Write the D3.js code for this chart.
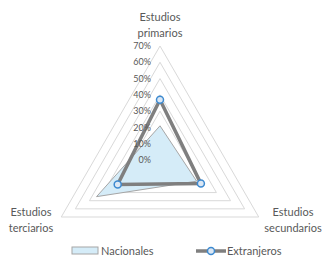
<!DOCTYPE html>
<meta charset="utf-8">
<head>
<style>
  body { margin: 0; background: #fff; }
  text { font-family: Lato, "Liberation Sans", sans-serif; fill: #595959; }
</style>
</head>
<body>
<script src="https://cdn.jsdelivr.net/npm/d3@7"></script>
<script>

// chart data
var axes = [["Estudios", "primarios"], ["Estudios", "secundarios"], ["Estudios", "terciarios"]];
var nacionales = [0.21, 0.26, 0.45];
var extranjeros = [0.37, 0.29, 0.30];
var ticks = [0, 0.1, 0.2, 0.3, 0.4, 0.5, 0.6, 0.7];

var width = 324,
    height = 258,
    cx = 160,
    cy = 160;

var svg = d3.select("body").append("svg")
    .attr("width", width)
    .attr("height", height);

//radial scale
var r = d3.scaleLinear().domain([0, 0.7]).range([0, 114]);

var angle = d3.scaleLinear().domain([0, axes.length]).range([0, 2 * Math.PI]);

function pt(i, v) {
  var a = angle(i);
  return [cx + r(v) * Math.sin(a), cy - r(v) * Math.cos(a)];
}

var poly = d3.line().curve(d3.curveLinearClosed);

// grid rings
svg.append("g").selectAll("path")
  .data(ticks.slice(1))
  .enter().append("path")
  .attr("d", function(t) { return poly(axes.map(function(a, i) { return pt(i, t); })); })
  .attr("fill", "none")
  .attr("stroke", "#d9d9d9")
  .attr("stroke-width", 1);

// Nacionales area
svg.append("path")
  .attr("d", poly(nacionales.map(function(v, i) { return pt(i, v); })))
  .attr("fill", "#d5ecf8")
  .attr("stroke", "#a6a6a6")
  .attr("stroke-width", 1);

// Extranjeros line
svg.append("path")
  .attr("d", poly(extranjeros.map(function(v, i) { return pt(i, v); })))
  .attr("fill", "none")
  .attr("stroke", "#7f7f7f")
  .attr("stroke-width", 3.5)
  .attr("stroke-linejoin", "miter");

svg.append("g").selectAll("circle")
  .data(extranjeros)
  .enter().append("circle")
  .attr("cx", function(v, i) { return pt(i, v)[0]; })
  .attr("cy", function(v, i) { return pt(i, v)[1]; })
  .attr("r", 3.5)
  .attr("fill", "#dbe7f4")
  .attr("stroke", "#3d8ad0")
  .attr("stroke-width", 1.5);

// tick labels
svg.append("g").selectAll("text")
  .data(ticks)
  .enter().append("text")
  .attr("x", cx - 9)
  .attr("y", function(t) { return cy - r(t); })
  .attr("dy", "0.35em")
  .attr("text-anchor", "end")
  .style("font-size", "9px")
  .text(d3.format(".0%"));

// axis labels
var labelPos = [[160, 17], [293, 212], [31, 212]];
axes.forEach(function(lines, i) {
  var t = svg.append("text")
    .attr("text-anchor", "middle")
    .style("font-size", "11px");
  lines.forEach(function(s, j) {
    t.append("tspan")
      .attr("x", labelPos[i][0])
      .attr("y", labelPos[i][1] + j * 16)
      .attr("dy", "0.35em")
      .text(s);
  });
});

// legend
var lg = svg.append("g");
lg.append("rect")
  .attr("x", 72).attr("y", 247)
  .attr("width", 26).attr("height", 7)
  .attr("fill", "#d5ecf8")
  .attr("stroke", "#a6a6a6");
lg.append("text")
  .attr("x", 101).attr("y", 251)
  .attr("dy", "0.35em")
  .style("font-size", "11px")
  .text("Nacionales");
lg.append("line")
  .attr("x1", 196).attr("x2", 226)
  .attr("y1", 251).attr("y2", 251)
  .attr("stroke", "#7f7f7f")
  .attr("stroke-width", 3.5);
lg.append("circle")
  .attr("cx", 211).attr("cy", 251).attr("r", 3.5)
  .attr("fill", "#dbe7f4")
  .attr("stroke", "#3d8ad0")
  .attr("stroke-width", 1.5);
lg.append("text")
  .attr("x", 227).attr("y", 251)
  .attr("dy", "0.35em")
  .style("font-size", "11px")
  .text("Extranjeros");

</script>
</body>
